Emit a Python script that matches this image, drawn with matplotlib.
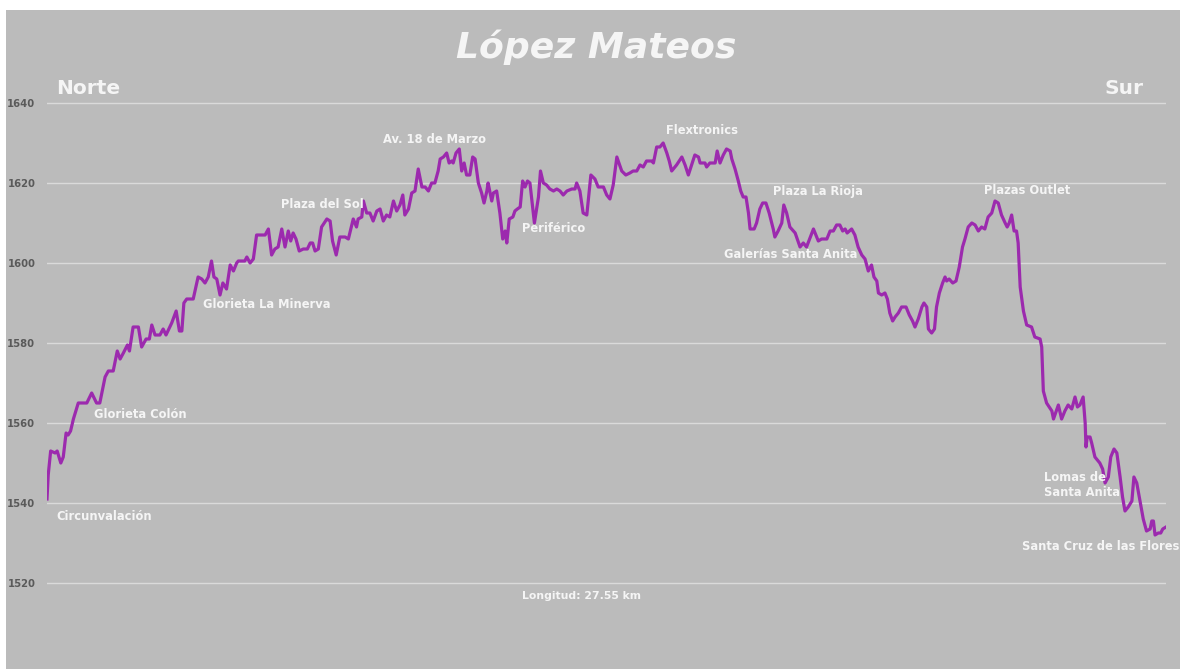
import matplotlib
matplotlib.use("Agg")
import matplotlib.pyplot as plt
import matplotlib.patches as mpatches

# elevation profile: distance along the route (km) and altitude (m)
dist_km = [
    0.00, 0.03, 0.09, 0.20, 0.25, 0.34, 0.40, 0.47, 0.52, 0.58, 0.65, 0.77, 0.98, 1.10, 1.22, 1.30,
    1.43, 1.51, 1.63, 1.73, 1.80, 1.88, 1.98, 2.03, 2.12, 2.25, 2.33, 2.44, 2.52, 2.58, 2.66, 2.78,
    2.86, 2.93, 3.07, 3.18, 3.26, 3.32, 3.37, 3.44, 3.60, 3.72, 3.81, 3.89, 3.97, 4.05, 4.11, 4.18,
    4.26, 4.33, 4.42, 4.51,
    4.59, 4.67, 4.71, 4.87, 4.92, 5.00, 5.08, 5.16, 5.37, 5.45, 5.53, 5.61, 5.69, 5.78, 5.86, 5.94,
    6.00, 6.06, 6.13, 6.21, 6.31, 6.41, 6.48, 6.54, 6.60, 6.68, 6.76, 6.89, 6.97, 7.03, 7.12, 7.21,
    7.34, 7.42, 7.54, 7.62, 7.66, 7.75, 7.79, 7.87, 7.95, 8.03, 8.12, 8.20, 8.28, 8.36, 8.44, 8.53,
    8.61, 8.69, 8.76, 8.81, 8.90, 8.98, 9.06, 9.14, 9.23, 9.31, 9.39,
    9.47, 9.55, 9.63, 9.68, 9.76, 9.84, 9.90, 9.96, 10.00, 10.07, 10.15, 10.21, 10.27, 10.33, 10.41,
    10.48, 10.54, 10.62, 10.70, 10.76, 10.83, 10.86, 10.95, 10.99, 11.07, 11.15, 11.22, 11.28, 11.32,
    11.38, 11.47, 11.52, 11.58, 11.65, 11.71, 11.77, 11.83, 11.89, 12.00, 12.10, 12.15, 12.22, 12.30,
    12.38, 12.47, 12.55, 12.63, 12.71, 12.80, 12.92, 13.00, 13.04, 13.12, 13.20, 13.29, 13.39, 13.49,
    13.57, 13.70, 13.78, 13.86,
    13.94, 14.03, 14.15, 14.25, 14.35, 14.43, 14.52, 14.60, 14.68, 14.76, 14.89, 14.93, 15.01, 15.09,
    15.17, 15.26, 15.32, 15.38, 15.50, 15.63, 15.71, 15.79, 15.87, 15.95, 16.04, 16.08, 16.20, 16.24,
    16.32, 16.45, 16.50, 16.57, 16.65, 16.73, 16.82, 16.86, 16.94, 17.02, 17.08, 17.14, 17.21, 17.27,
    17.31, 17.41, 17.47, 17.55, 17.62, 17.70, 17.78, 17.88, 17.92, 18.00, 18.09, 18.14, 18.21, 18.29,
    18.42, 18.54,
    18.62, 18.70, 18.87, 18.99, 19.07, 19.20, 19.28, 19.36, 19.44, 19.52, 19.59, 19.65, 19.70, 19.81,
    19.89, 19.97, 20.06, 20.14, 20.22, 20.30, 20.36, 20.43, 20.47, 20.55, 20.63, 20.69, 20.75, 20.82,
    20.88, 20.96, 21.04, 21.15, 21.23, 21.31, 21.37, 21.45, 21.54, 21.59, 21.66, 21.70, 21.78, 21.85,
    21.90, 21.97, 22.05, 22.11, 22.15, 22.21, 22.30, 22.38, 22.46, 22.54, 22.60, 22.68, 22.77, 22.85,
    22.93, 23.01, 23.09, 23.17, 23.26, 23.34,
    23.42, 23.50, 23.59, 23.64, 23.69, 23.75, 23.81, 23.87, 23.91, 23.96, 24.04, 24.12, 24.24, 24.32,
    24.45, 24.49, 24.53, 24.61, 24.74, 24.78, 24.90, 24.98, 25.06, 25.14, 25.23, 25.31, 25.37, 25.43,
    25.51, 25.56, 25.58, 25.61, 25.68, 25.72, 25.80, 25.92, 25.99, 26.05, 26.13, 26.19, 26.27, 26.34,
    26.42, 26.48, 26.54, 26.62, 26.71, 26.76, 26.83, 26.91, 26.99, 27.07, 27.16, 27.20, 27.24, 27.28,
    27.36, 27.42, 27.47, 27.55,
]
elev_m = [
    1541, 1547, 1553, 1552.5, 1553, 1550, 1551.5, 1557.5, 1557, 1558, 1561, 1565, 1565, 1567.5, 1565, 1565,
    1571.5, 1573, 1573, 1578, 1576, 1577.5, 1579.5, 1578, 1584, 1584, 1579, 1581, 1581, 1584.5, 1582, 1582,
    1583.5, 1582, 1585, 1588, 1583, 1583, 1590, 1591, 1591, 1596.5, 1596, 1595, 1596.5, 1600.5, 1596.5, 1596,
    1592, 1595, 1593.5, 1599.5,
    1598, 1600, 1600.5, 1600.5, 1601.5, 1600, 1601, 1607, 1607, 1608.5, 1602, 1603.5, 1604, 1608.5, 1604, 1608,
    1605.5, 1607.5, 1606, 1603, 1603.5, 1603.5, 1605, 1605, 1603, 1603.5, 1609, 1611, 1610.5, 1605.5, 1602, 1606.5,
    1606.5, 1606, 1611, 1609, 1611, 1611.5, 1615.5, 1612.5, 1612.5, 1610.5, 1613, 1613.5, 1610.5, 1612, 1611.5, 1615.5,
    1613, 1614.5, 1617, 1612, 1613.5, 1617.5, 1618, 1623.5, 1619, 1619, 1618,
    1620, 1620, 1623, 1626, 1626.5, 1627.5, 1625, 1625.5, 1625, 1627.5, 1628.5, 1623, 1625, 1622, 1622,
    1626.5, 1626, 1620, 1617.5, 1615, 1618, 1620, 1615.5, 1617.5, 1618, 1612.5, 1606, 1608, 1605,
    1611, 1611.5, 1613, 1613.5, 1614, 1620.5, 1619, 1620.5, 1620, 1610, 1616.5, 1623, 1620, 1619.5,
    1618.5, 1618, 1618.5, 1618, 1617, 1618, 1618.5, 1618.5, 1620, 1618, 1612.5, 1612, 1622, 1621,
    1619, 1619, 1617, 1616,
    1619.5, 1626.5, 1623, 1622, 1622.5, 1623, 1623, 1624.5, 1624, 1625.5, 1625.5, 1625, 1629, 1629,
    1630, 1627.5, 1625.5, 1623, 1624.5, 1626.5, 1624.5, 1622, 1624.5, 1627, 1626.5, 1625, 1625, 1624,
    1625, 1625, 1628, 1625, 1627, 1628.5, 1628, 1626, 1623.5, 1620.5, 1618, 1616.5, 1616.5, 1612.5,
    1608.5, 1608.5, 1610, 1613.5, 1615, 1615, 1612.5, 1608.5, 1606.5, 1608, 1610, 1614.5, 1612.5, 1609,
    1607.5, 1604,
    1605, 1604, 1608.5, 1605.5, 1606, 1606, 1608, 1608, 1609.5, 1609.5, 1608, 1608.5, 1607.5, 1608.5,
    1607, 1604, 1602, 1601, 1598, 1599.5, 1596.5, 1595.5, 1592.5, 1592, 1592.5, 1591, 1587.5, 1585.5,
    1586.5, 1587.5, 1589, 1589, 1587, 1585.5, 1584, 1586, 1589, 1590, 1589, 1583.5, 1582.5, 1583.5,
    1589, 1592.5, 1595, 1596.5, 1595.5, 1596, 1595, 1595.5, 1599, 1604, 1606, 1609, 1610, 1609.5,
    1608, 1609, 1608.5, 1611.5, 1612.5, 1615.5,
    1615, 1612, 1610, 1609, 1610, 1612, 1608, 1608, 1605, 1594, 1588, 1584.5, 1584, 1581.5,
    1581, 1579, 1568, 1565, 1563, 1561, 1564.5, 1561, 1563, 1564.5, 1563.5, 1566.5, 1564, 1564.5,
    1566.5, 1560, 1554, 1556.5, 1556.5, 1555, 1551.5, 1550, 1548.5, 1545, 1546.5, 1551.5, 1553.5, 1552.5,
    1546.5, 1541.5, 1538, 1539, 1540.5, 1546.5, 1545, 1540.5, 1536, 1533, 1533.5, 1535.5, 1535.5, 1532,
    1532.5, 1532.5, 1533.5, 1534,
]

total_km = 27.55
y_ticks = [1520, 1540, 1560, 1580, 1600, 1620, 1640]

station_names = [
    "Circunvalación", "Glorieta Colón", "Glorieta La Minerva", "Plaza del Sol",
    "Av. 18 de Marzo", "Periférico", "Flextronics", "Galerías Santa Anita",
    "Plaza La Rioja", "Plazas Outlet", "Lomas de\nSanta Anita", "Santa Cruz de las Flores",
]
# where each station name is written (km, m)
station_pos = [
    (0.22, 1536.5), (1.16, 1562.2), (3.84, 1589.5), (5.76, 1614.5),
    (8.27, 1630.8), (11.69, 1608.5), (15.24, 1633.0), (16.67, 1602.0),
    (17.87, 1618.0), (23.07, 1618.0), (24.55, 1544.6), (24.00, 1529.0),
]

bg = "#bbbbbb"
purple = "#9c2aae"
txt = "#f5f5f5"

fig = plt.figure(figsize=(11.8, 6.69), dpi=100, facecolor="white")
fig.patches.append(mpatches.Rectangle((6 / 1180, 0), 1, 659 / 669, transform=fig.transFigure,
                                      facecolor=bg, edgecolor="none", zorder=-10))

ax = fig.add_axes([47 / 1180, 1 - 663 / 669, 1119 / 1180, 640 / 669])
ax.set_facecolor("none")
ax.set_xlim(0, total_km)
ax.set_ylim(1500, 1660)

for v in y_ticks:
    ax.axhline(v, color="#dadada", lw=1.0, zorder=1)
ax.plot(dist_km, elev_m, color=purple, lw=2.3, zorder=3, solid_joinstyle="round")

ax.set_xticks([])
ax.set_yticks(y_ticks)
ax.set_yticklabels([str(v) for v in y_ticks], fontweight="bold", fontsize=7.2, color="#5a5a5a")
ax.tick_params(axis="y", length=0, pad=8.5)
for s in ax.spines.values():
    s.set_visible(False)

for name, (x, y) in zip(station_names, station_pos):
    ax.text(x, y, name, color=txt, fontsize=8.3, fontweight="bold",
            ha="left", va="center", linespacing=1.2, zorder=4)

ax.text(total_km * 0.478, 1516.8, "Longitud: %.2f km" % total_km, color=txt,
        fontsize=7.8, fontweight="bold", ha="center", va="center")

fig.text(596 / 1180, 1 - 47 / 669, "López Mateos", color=txt, fontsize=26,
         fontweight="bold", style="italic", ha="center", va="center")
fig.text(56 / 1180, 1 - 88 / 669, "Norte", color=txt, fontsize=14.5,
         fontweight="bold", ha="left", va="center")
fig.text(1143 / 1180, 1 - 88 / 669, "Sur", color=txt, fontsize=14.5,
         fontweight="bold", ha="right", va="center")

fig.savefig("out.png", dpi=100, facecolor="white")
